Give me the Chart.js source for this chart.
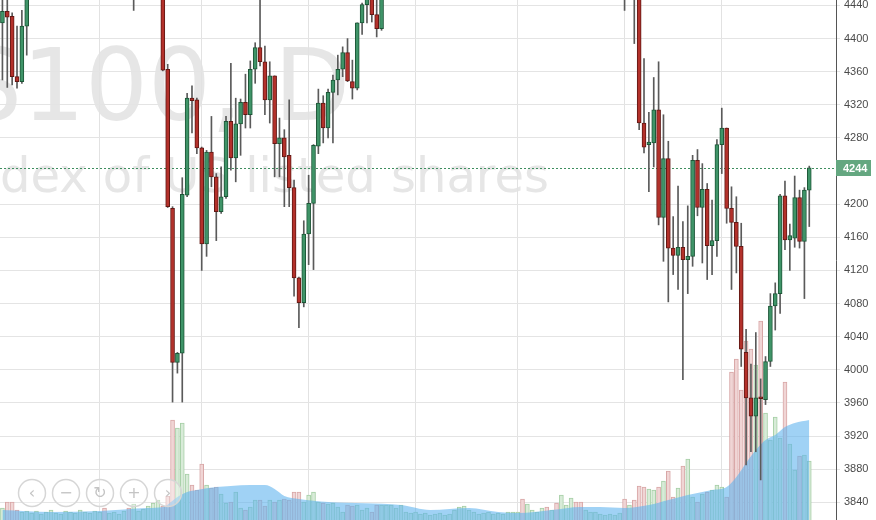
<!DOCTYPE html>
<html>
<head>
<meta charset="utf-8">
<script src="https://cdn.jsdelivr.net/npm/chart.js@4.4.1/dist/chart.umd.min.js"></script>
<style>
  html, body { margin: 0; padding: 0; background: #fff; }
  #wrap { width: 876px; height: 520px; position: relative; }
</style>
</head>
<body>
<div id="wrap"><canvas id="grafico"></canvas></div>
<script>
const _ = null; // candle fora da janela visivel

const opens = [
  4419,4433,4427,4354,4348,4415,_,_,_,_,
  _,_,_,_,_,_,_,_,_,_,
  _,_,_,_,_,_,_,4460,_,_,
  _,_,_,4460,4363,4195,4009,4020,4211,4328,
  4326,4268,4152,4263,4233,4191,4209,4300,4256,4297,
  4323,4308,4363,4389,4372,4326,4355,4273,4280,4259,
  4220,4111,4081,4164,4201,4270,4322,4292,4335,4350,
  4363,4383,4348,4340,4419,4441,4452,4429,4412,_,
  _,_,_,_,_,_,_,_,_,_,
  _,_,_,_,_,_,_,_,_,_,
  _,_,_,_,_,_,_,_,_,_,
  _,_,_,_,_,_,_,_,_,_,
  _,_,_,_,_,_,_,_,4470,_,
  4470,4460,4298,4272,4274,4314,4184,4255,4147,4138,
  4148,4133,4137,4253,4196,4218,4150,4156,4272,4292,
  4195,4178,4149,4021,3966,3944,3966,3964,4010,4077,
  4092,4210,4157,4159,4208,4155,4217
];
const highs = [
  4450,4450,4431,4415,4434,4462,_,_,_,_,
  _,_,_,_,_,_,_,_,_,_,
  _,_,_,_,_,_,_,4478,_,_,
  _,_,_,4468,4369,4197,4021,4232,4334,4343,
  4328,4269,4265,4306,4237,4245,4306,4370,4328,4327,
  4357,4373,4395,4452,4391,4372,4355,4304,4290,4326,
  4229,4112,4180,4235,4272,4339,4331,4339,4356,4380,
  4390,4400,4374,4419,4443,4462,4458,4450,4460,_,
  _,_,_,_,_,_,_,_,_,_,
  _,_,_,_,_,_,_,_,_,_,
  _,_,_,_,_,_,_,_,_,_,
  _,_,_,_,_,_,_,_,_,_,
  _,_,_,_,_,_,_,_,4478,_,
  4480,4470,4376,4311,4353,4372,4308,4276,4185,4222,
  4179,4198,4259,4266,4249,4225,4205,4278,4316,4292,
  4221,4209,4177,4049,4007,4045,3989,4016,4092,4105,
  4212,4228,4176,4234,4217,4220,4246
];
const lows = [
  4350,4341,4344,4340,4346,4380,_,_,_,_,
  _,_,_,_,_,_,_,_,_,_,
  _,_,_,_,_,_,_,4434,_,_,
  _,_,_,4361,4196,3961,3996,3961,4209,4286,
  4261,4120,4137,4221,4156,4189,4207,4241,4227,4259,
  4292,4292,4346,4367,4308,4298,4233,4233,4197,4197,
  4089,4051,4076,4127,4121,4261,4274,4280,4274,4332,
  4354,4348,4327,4338,4405,4419,4420,4402,4410,_,
  _,_,_,_,_,_,_,_,_,_,
  _,_,_,_,_,_,_,_,_,_,
  _,_,_,_,_,_,_,_,_,_,
  _,_,_,_,_,_,_,_,_,_,
  _,_,_,_,_,_,_,_,4434,_,
  4394,4290,4262,4215,4245,4175,4131,4082,4115,4097,
  3988,4092,4125,4186,4129,4109,4115,4137,4237,4177,
  4097,4117,4004,3885,3901,3901,3867,3958,4004,4048,
  4068,4145,4120,4148,4147,4086,4173
];
const closes = [
  4433,4426,4354,4348,4415,4455,_,_,_,_,
  _,_,_,_,_,_,_,_,_,_,
  _,_,_,_,_,_,_,4472,_,_,
  _,_,_,4362,4197,4009,4020,4212,4328,4325,
  4268,4152,4263,4233,4191,4209,4300,4256,4297,4323,
  4308,4363,4389,4372,4326,4355,4273,4280,4257,4220,
  4111,4081,4164,4201,4271,4322,4292,4335,4350,4363,
  4383,4349,4340,4419,4441,4455,4429,4412,4452,_,
  _,_,_,_,_,_,_,_,_,_,
  _,_,_,_,_,_,_,_,_,_,
  _,_,_,_,_,_,_,_,_,_,
  _,_,_,_,_,_,_,_,_,_,
  _,_,_,_,_,_,_,_,4460,_,
  4455,4298,4269,4275,4314,4184,4255,4147,4138,4148,
  4133,4137,4253,4196,4218,4150,4156,4272,4292,4195,
  4178,4149,4025,3966,3944,3966,3965,4010,4077,4092,
  4210,4157,4162,4208,4155,4217,4244
];
const volume = [
  12,18,18,10,8,9,7,9,6,8,
  10,7,6,9,8,7,10,8,7,9,
  8,12,7,8,6,9,12,16,9,11,
  14,17,20,14,24,100,92,97,46,35,
  30,56,35,32,33,26,17,18,28,12,
  10,13,20,20,14,20,18,20,21,20,
  28,28,18,25,28,18,17,16,17,13,
  8,15,14,15,10,12,8,15,15,15,
  15,12,15,8,7,8,6,7,5,6,
  7,5,6,10,13,14,10,8,6,7,
  8,6,7,6,8,8,8,21,16,10,
  8,12,13,10,17,25,15,22,18,18,
  10,8,8,6,5,6,5,7,21,15,
  20,34,33,31,30,33,39,49,23,32,
  54,61,23,18,26,28,30,35,33,23,
  148,161,130,179,171,155,199,107,80,103,
  82,138,76,50,64,65,59
];
// dias fora da janela cujo volume e de baixa
const volDownHidden = [21, 26, 107, 112, 114, 118, 119];
// media do volume (lida em alguns pontos)
const mediaVolIdx = [0,10,20,30,33,36,38,40,44,47,51,54,56,58,61,67,82,88,96,102,106,113,119,123,128,133,137,141,146,149,151,153,155,157,159,161,163,166];
const mediaVolVal = [10,8,9,12,13,23,28,30,33,34,35,35,31,24,21,18,15,10,12,8,7,10,13,13,12,15,20,25,30,33,43,57,70,80,85,93,97,100];

const yTicks = [3840,3880,3920,3960,4000,4040,4080,4120,4160,4200,4280,4320,4360,4400,4440];
const monthStarts = [20, 41, 63, 85, 106, 128, 148];
const lastPrice = 4244;
const watermark = ['US100, D', 'Index of US listed shares'];
const slots = 172;
const labels = Array.from({length: slots}, (v, i) => String(i));

const corAlta = '#3f9468', bordaAlta = '#1d5637';
const corBaixa = '#b3312b', bordaBaixa = '#621814';

function isUp(i) {
    if (opens[i] !== null) return closes[i] >= opens[i];
    return !volDownHidden.includes(i);
}

const extras = {
    id: 'extras',
    beforeDraw(chart) {
        const c = chart.ctx;
        c.save();
        c.fillStyle = '#e6e6e6';
        c.textBaseline = 'alphabetic';
        c.font = '99px "DejaVu Sans"';
        c.fillText(watermark[0], 22 - c.measureText('US').width, 120);
        c.font = '48px "DejaVu Sans"';
        c.fillText(watermark[1], -c.measureText('In').width, 192);
        c.restore();
    },
    beforeDatasetsDraw(chart) {
        const { ctx: c, chartArea: a, scales: { y } } = chart;
        const py = Math.round(y.getPixelForValue(lastPrice)) + 0.5;
        c.save();
        c.strokeStyle = '#3e8e5f';
        c.lineWidth = 1;
        c.setLineDash([2, 2]);
        c.beginPath(); c.moveTo(a.left, py); c.lineTo(a.right, py); c.stroke();
        c.restore();
    },
    afterDraw(chart) {
        const { ctx: c, chartArea: a, scales: { y } } = chart;
        const py = Math.round(y.getPixelForValue(lastPrice));
        c.save();
        c.fillStyle = '#64a780';
        c.fillRect(a.right, py - 8, 35, 16);
        c.fillStyle = '#fff';
        c.font = 'bold 11px "Liberation Sans"';
        c.textBaseline = 'middle';
        c.textAlign = 'left';
        c.fillText(String(lastPrice), a.right + 7, py + 0.5);

        // botoes de navegacao
        const simbolos = ['\u2039', '\u2212', '\u21bb', '+', '\u203a'];
        simbolos.forEach((s, k) => {
            const cx = 32 + k * 34, cy = 493;
            c.beginPath();
            c.arc(cx, cy, 13.5, 0, Math.PI * 2);
            c.fillStyle = 'rgba(255,255,255,0.35)';
            c.fill();
            c.lineWidth = 1.5;
            c.strokeStyle = '#d6d6d6';
            c.stroke();
            c.fillStyle = '#c4c4c4';
            c.font = '16px "DejaVu Sans"';
            c.textAlign = 'center';
            c.textBaseline = 'middle';
            c.fillText(s, cx, cy + 1);
        });
        c.restore();
    }
};

const canvas = document.getElementById('grafico');
new Chart(canvas.getContext('2d'), {
    type: 'bar',
    plugins: [extras],
    data: {
        labels: labels,
        datasets: [
            {
                label: 'Corpo',
                data: opens.map((o, i) => o === null ? null : [o, closes[i]]),
                backgroundColor: ctx => isUp(ctx.dataIndex) ? corAlta : corBaixa,
                borderColor: ctx => isUp(ctx.dataIndex) ? bordaAlta : bordaBaixa,
                borderWidth: 1,
                borderSkipped: false,
                barThickness: 4,
                minBarLength: 2,
                grouped: false,
                order: 1
            },
            {
                label: 'Pavio',
                data: lows.map((l, i) => l === null ? null : [l, highs[i]]),
                backgroundColor: '#5a5a5a',
                borderWidth: 0,
                barThickness: 1,
                grouped: false,
                order: 2
            },
            {
                type: 'line',
                label: 'Media volume',
                data: mediaVolIdx.map((ix, k) => ({ x: labels[ix], y: mediaVolVal[k] })),
                yAxisID: 'yV',
                fill: 'origin',
                backgroundColor: 'rgba(97,180,238,0.6)',
                borderWidth: 0,
                pointRadius: 0,
                cubicInterpolationMode: 'monotone',
                order: 3
            },
            {
                label: 'Volume',
                data: volume,
                yAxisID: 'yV',
                backgroundColor: ctx => isUp(ctx.dataIndex) ? '#d8ebd8' : '#f0d5d5',
                borderColor: ctx => isUp(ctx.dataIndex) ? '#a6cfa6' : '#d8a6a6',
                borderWidth: 1,
                borderSkipped: 'start',
                barThickness: 4,
                grouped: false,
                order: 4
            }
        ]
    },
    options: {
        responsive: true,
        maintainAspectRatio: false,
        animation: false,
        layout: { padding: 0 },
        scales: {
            x: {
                type: 'category',
                offset: true,
                grid: {
                    offset: false,
                    drawTicks: false,
                    color: c => monthStarts.includes(c.index) ? '#e2e2e2' : 'rgba(0,0,0,0)'
                },
                border: { display: false },
                ticks: { display: false, autoSkip: false },
                afterFit: s => { s.height = 0; s.paddingLeft = 0; s.paddingRight = 0; }
            },
            y: {
                position: 'right',
                min: 3818.6,
                max: 4446.6,
                afterBuildTicks: s => { s.ticks = yTicks.map(v => ({ value: v })); },
                afterFit: s => { s.width = 40; s.paddingTop = 0; s.paddingBottom = 0; },
                grid: { color: '#e4e4e4', tickLength: 4 },
                border: { display: true, color: '#555', width: 1 },
                ticks: {
                    padding: 4,
                    color: '#4a4a4a',
                    font: { family: '"Liberation Sans"', size: 11 },
                    callback: v => String(v)
                }
            },
            yV: {
                display: false,
                min: 0,
                max: 520
            }
        },
        plugins: {
            legend: { display: false },
            tooltip: { enabled: false }
        }
    }
});
</script>
</body>
</html>
